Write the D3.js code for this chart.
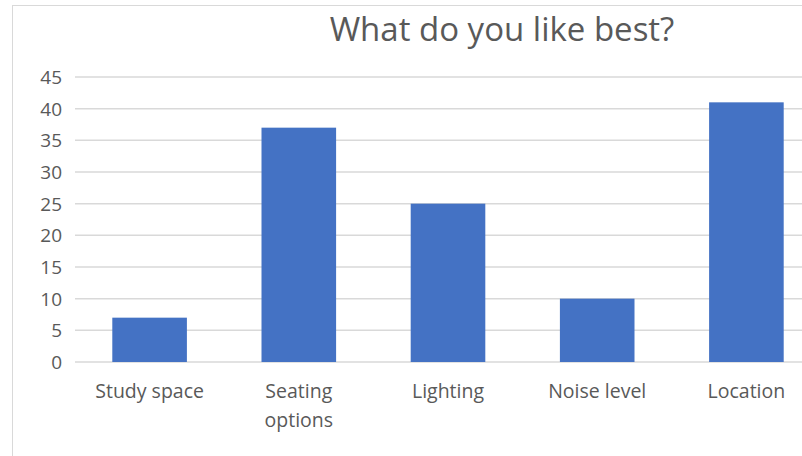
<!DOCTYPE html>
<html>
<head>
<meta charset="utf-8">
<script src="https://cdn.jsdelivr.net/npm/d3@7"></script>
<style>
  body { margin: 0; background: #fff; }
  text { font-family: "Open Sans", sans-serif; fill: #595959; }
</style>
</head>
<body>
<svg id="chart" width="802" height="456"></svg>
<script>
// Data
const categories = ["Study space", "Seating options", "Lighting", "Noise level", "Location"];
const values = [7, 37, 25, 10, 41];
const yTicks = [0, 5, 10, 15, 20, 25, 30, 35, 40, 45];
const title = "What do you like best?";

const svg = d3.select("#chart");

// chart frame (cut off by the window on the right and bottom)
svg.append("rect")
  .attr("x", 12.5).attr("y", 5.5)
  .attr("width", 900).attr("height", 470)
  .attr("fill", "#fff")
  .attr("stroke", "#d9d9d9");

// Scales
const x = d3.scaleBand()
  .domain(categories)
  .range([75, 821])
  .paddingInner(0.5)
  .paddingOuter(0.25);

const y = d3.scaleLinear().domain([0, 45]).range([362, 77]);

// Gridlines
svg.append("g")
  .selectAll("line")
  .data(yTicks)
  .join("line")
  .attr("x1", 75).attr("x2", 802)
  .attr("y1", (d) => y(d)).attr("y2", (d) => y(d))
  .attr("stroke", "#d9d9d9")
  .attr("stroke-width", 1.5);

// Y axis labels
svg.append("g")
  .selectAll("text")
  .data(yTicks)
  .join("text")
  .attr("x", 62)
  .attr("y", (d) => y(d))
  .attr("dy", "0.36em")
  .attr("text-anchor", "end")
  .attr("font-size", 19)
  .text((d) => d);

// Bars
svg.append("g")
  .selectAll("rect")
  .data(values)
  .join("rect")
  .attr("x", (d, i) => x(categories[i]))
  .attr("width", x.bandwidth())
  .attr("y", (d) => y(d))
  .attr("height", (d) => y(0) - y(d))
  .attr("fill", "#4472c4");

// Category labels (wrapped like Excel)
const wrap = { "Seating options": ["Seating", "options"] };
const catLabels = svg.append("g")
  .selectAll("text")
  .data(categories)
  .join("text")
  .attr("x", (d) => x(d) + x.bandwidth() / 2)
  .attr("y", 398)
  .attr("text-anchor", "middle")
  .attr("font-size", 19.5);

catLabels.each(function (d) {
  const lines = wrap[d] || [d];
  d3.select(this).selectAll("tspan")
    .data(lines)
    .join("tspan")
    .attr("x", x(d) + x.bandwidth() / 2)
    .attr("dy", (l, i) => (i === 0 ? 0 : 29))
    .text((l) => l);
});

// Title
svg.append("text")
  .attr("x", 502)
  .attr("y", 41)
  .attr("text-anchor", "middle")
  .attr("font-size", 33)
  .text(title);
</script>
</body>
</html>
